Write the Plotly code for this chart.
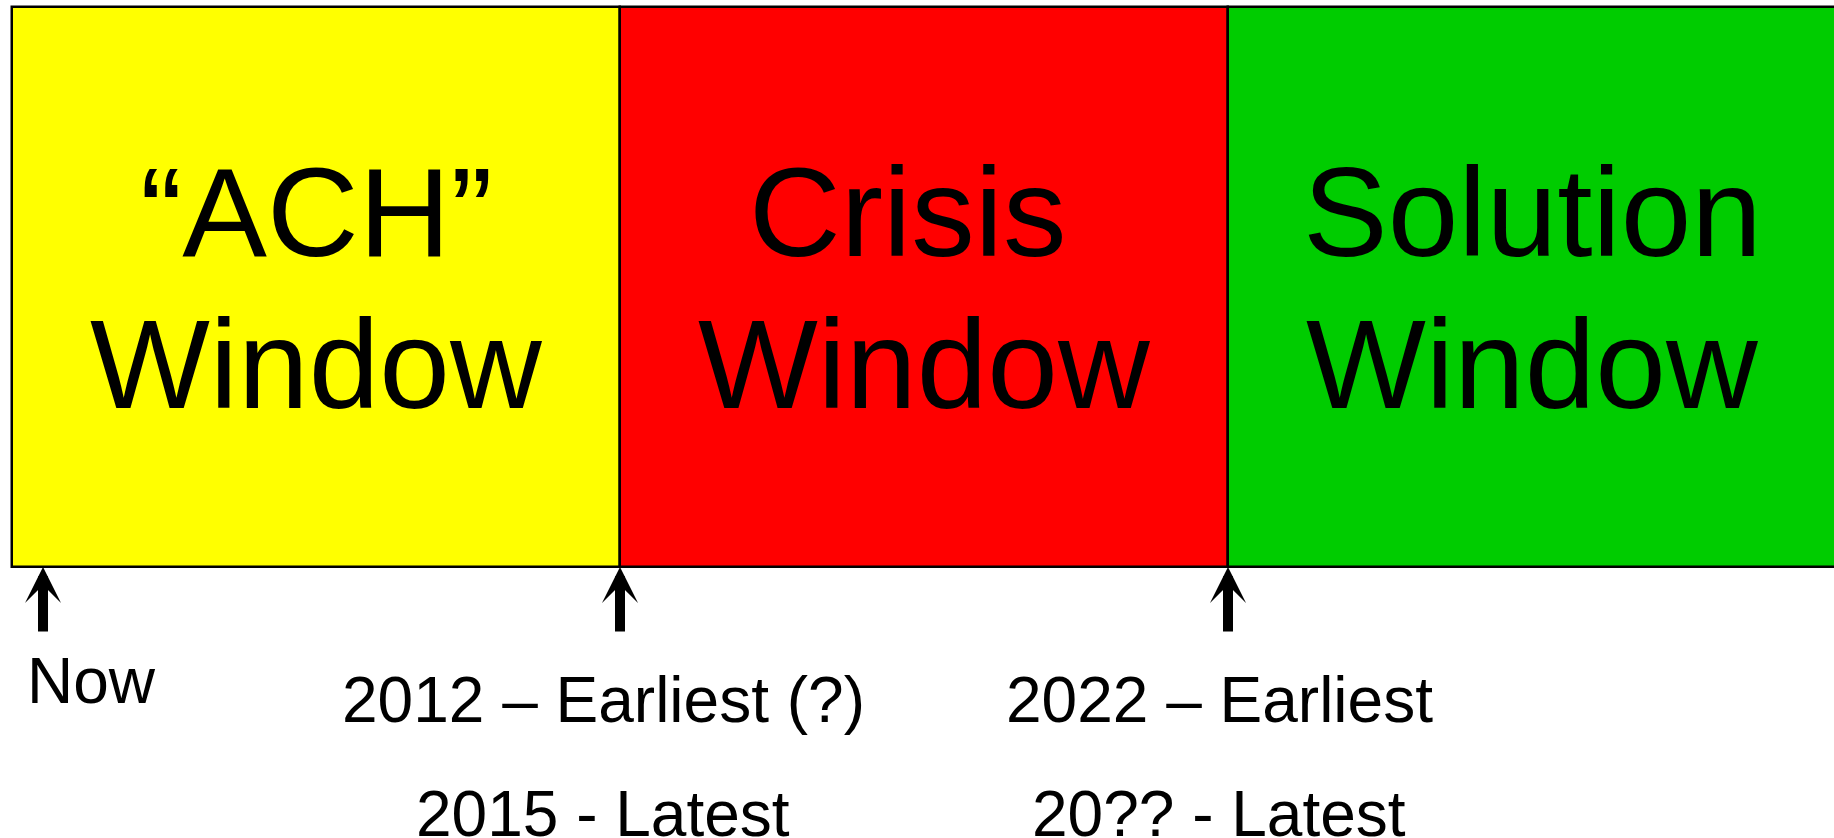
import plotly.graph_objects as go

# ---- data ----
window_title = ["“ACH”", "Crisis", "Solution"]
window_subtitle = ["Window", "Window", "Window"]
window_start = [0, 1, 2]
window_length = [1, 1, 1]
window_colors = ["#FFFF00", "#FF0000", "#00CC00"]

milestone_pos = [0.051, 1.0, 2.0]
milestone_label = ["Now", "2012 – Earliest (?)", "2022 – Earliest"]
latest_label = ["", "2015 - Latest", "20?? - Latest"]

# ---- style ----
FONT = "Arial, 'Liberation Sans', sans-serif"
W, H = 1834, 838
label_xshift = [48, -17, -9]
title_xshift = [0, -17, 0]

fig = go.Figure()
fig.add_trace(go.Bar(
    x=[s + l / 2 for s, l in zip(window_start, window_length)],
    y=[1] * len(window_start),
    width=window_length,
    marker=dict(color=window_colors, line=dict(color="black", width=2.5)),
    hoverinfo="skip",
    showlegend=False,
))

ann = []
for i in range(len(window_title)):
    cx = window_start[i] + window_length[i] / 2
    ann.append(dict(x=cx, y=0.6348, text=window_title[i], showarrow=False,
                    xanchor="center", yanchor="middle", xshift=title_xshift[i],
                    font=dict(family=FONT, size=127, color="black")))
    ann.append(dict(x=cx, y=0.3625, text=window_subtitle[i], showarrow=False,
                    xanchor="center", yanchor="middle",
                    font=dict(family=FONT, size=127, color="black")))

for i, xp in enumerate(milestone_pos):
    ann.append(dict(x=xp, y=0, ax=xp, ay=-0.118, axref="x", ayref="y",
                    xref="x", yref="y", text="", showarrow=True,
                    arrowhead=3, arrowsize=0.6, arrowwidth=10,
                    arrowcolor="black", standoff=0))
    ann.append(dict(x=xp, y=(-0.2027 if i == 0 else -0.2375),
                    text=milestone_label[i], showarrow=False,
                    xanchor="center", yanchor="middle", xshift=label_xshift[i],
                    font=dict(family=FONT, size=64, color="black")))
    if latest_label[i]:
        ann.append(dict(x=xp, y=-0.4446, text=latest_label[i], showarrow=False,
                        xanchor="center", yanchor="middle", xshift=label_xshift[i],
                        yshift=2,
                        font=dict(family=FONT, size=64, color="black")))

fig.update_layout(
    width=W, height=H,
    margin=dict(l=0, r=0, t=0, b=0),
    paper_bgcolor="white", plot_bgcolor="white",
    xaxis=dict(range=[-12 / 608, (W - 12) / 608], visible=False, fixedrange=True),
    yaxis=dict(range=[-271 / 560, 567 / 560], visible=False, fixedrange=True),
    annotations=ann,
    bargap=0,
)

fig.write_html("out.html", config={"displayModeBar": False},
               post_script="document.body.style.margin='0';document.body.style.overflow='hidden';")
